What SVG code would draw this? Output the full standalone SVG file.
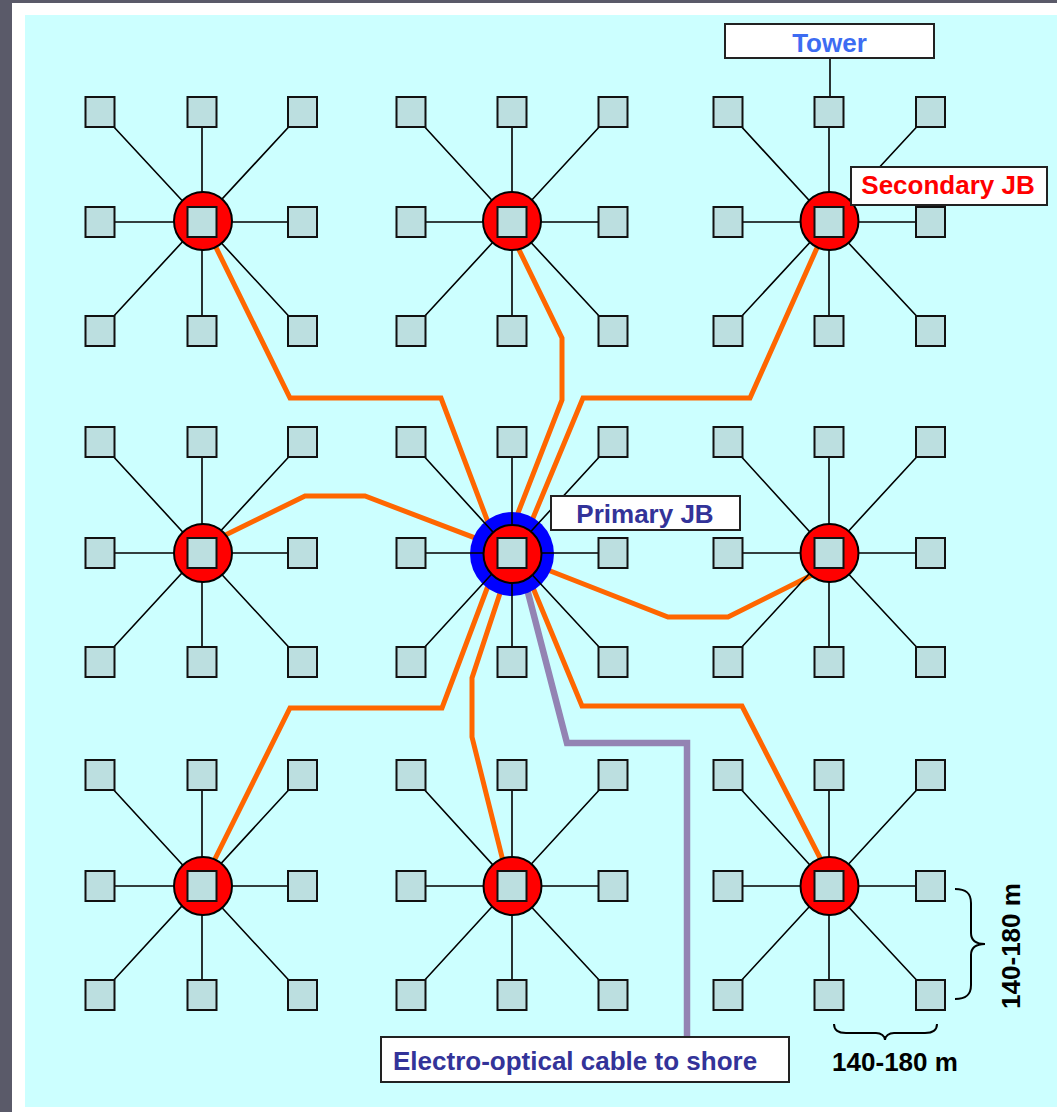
<svg xmlns="http://www.w3.org/2000/svg" xmlns:xlink="http://www.w3.org/1999/xlink" width="1057" height="1112" viewBox="0 0 1057 1112">
  <style>
    .sq { fill: #bcdfe0; stroke: #111; stroke-width: 2; }
    .spoke { fill: none; stroke: #000; stroke-width: 1.6; }
    .jb { fill: #ff0000; stroke: #000; stroke-width: 2; }
    .cable { fill: none; stroke: #ff6600; stroke-width: 5; }
    .shore { fill: none; stroke: #9383b3; stroke-width: 6.5; }
    .box { fill: #ffffff; stroke: #222; stroke-width: 2; }
    .lbl { font-family: "Liberation Sans", Arial, sans-serif; font-weight: bold; font-size: 26px; }
    .brace { fill: none; stroke: #000; stroke-width: 2; }
  </style>
  <defs>
    <rect id="sq" class="sq" x="-14.5" y="-15" width="29" height="30"/>
  </defs>

  <!-- page background, frame and sea-floor panel -->
  <rect x="0" y="0" width="1057" height="1112" fill="#5a5a69"/>
  <rect x="12" y="3" width="1045" height="1109" fill="#ffffff"/>
  <rect x="25" y="15" width="1032" height="1092" fill="#ccffff"/>

  <!-- inter-cluster cables -->
  <g id="connectors">
    <path class="cable" d="M203 221L290 398L441 398L500 554"/>
    <path class="cable" d="M505 221L562 338L562 400L502 554"/>
    <path class="cable" d="M829 221L750 398L583 398L518 554"/>
    <path class="cable" d="M203 546L305 496L365 496L512 552"/>
    <path class="cable" d="M512 556L668 617L728 617L830 566"/>
    <path class="cable" d="M500 554L442 708L290 708L202 885"/>
    <path class="cable" d="M513 554L472 678L472 737L509 885"/>
    <path class="cable" d="M519 554L582 706L742 706L834 885"/>
    <path class="shore" d="M518 554L567 743L687 743L687 1038"/>
  </g>

  <!-- primary junction box halo -->
  <g id="primary-jb-ring">
    <circle cx="512" cy="554" r="42" fill="#0000ff"/>
  </g>

  <!-- tower links inside each cluster -->
  <g id="spokes">
    <path class="spoke" d="M100 112L202 222L302.5 331M202 112V331M302.5 112L100 331M100 222H302.5"/>
    <path class="spoke" d="M411 112L512 222L613 331M512 112V331M613 112L411 331M411 222H613"/>
    <path class="spoke" d="M728 112L829 222L930.5 331M829 112V331M930.5 112L728 331M728 222H930.5"/>
    <path class="spoke" d="M100 442L202 553L302.5 662M202 442V662M302.5 442L100 662M100 553H302.5"/>
    <path class="spoke" d="M411 442L512 553L613 662M512 442V662M613 442L411 662M411 553H613"/>
    <path class="spoke" d="M728 442L829 553L930.5 662M829 442V662M930.5 442L728 662M728 553H930.5"/>
    <path class="spoke" d="M100 775L202 886L302.5 995M202 775V995M302.5 775L100 995M100 886H302.5"/>
    <path class="spoke" d="M411 775L512 886L613 995M512 775V995M613 775L411 995M411 886H613"/>
    <path class="spoke" d="M728 775L829 886L930.5 995M829 775V995M930.5 775L728 995M728 886H930.5"/>
    <path class="spoke" d="M830 58V97"/>
  </g>

  <!-- clusters: junction box + nine towers -->
  <g id="cluster-1">
    <circle class="jb" cx="203" cy="221" r="29"/>
    <use href="#sq" x="100" y="112"/><use href="#sq" x="202" y="112"/><use href="#sq" x="302.5" y="112"/>
    <use href="#sq" x="100" y="222"/><use href="#sq" x="202" y="222"/><use href="#sq" x="302.5" y="222"/>
    <use href="#sq" x="100" y="331"/><use href="#sq" x="202" y="331"/><use href="#sq" x="302.5" y="331"/>
  </g>
  <g id="cluster-2">
    <circle class="jb" cx="512" cy="221" r="29"/>
    <use href="#sq" x="411" y="112"/><use href="#sq" x="512" y="112"/><use href="#sq" x="613" y="112"/>
    <use href="#sq" x="411" y="222"/><use href="#sq" x="512" y="222"/><use href="#sq" x="613" y="222"/>
    <use href="#sq" x="411" y="331"/><use href="#sq" x="512" y="331"/><use href="#sq" x="613" y="331"/>
  </g>
  <g id="cluster-3">
    <circle class="jb" cx="829.5" cy="221" r="29"/>
    <use href="#sq" x="728" y="112"/><use href="#sq" x="829" y="112"/><use href="#sq" x="930.5" y="112"/>
    <use href="#sq" x="728" y="222"/><use href="#sq" x="829" y="222"/><use href="#sq" x="930.5" y="222"/>
    <use href="#sq" x="728" y="331"/><use href="#sq" x="829" y="331"/><use href="#sq" x="930.5" y="331"/>
  </g>
  <g id="cluster-4">
    <circle class="jb" cx="203" cy="553" r="29"/>
    <use href="#sq" x="100" y="442"/><use href="#sq" x="202" y="442"/><use href="#sq" x="302.5" y="442"/>
    <use href="#sq" x="100" y="553"/><use href="#sq" x="202" y="553"/><use href="#sq" x="302.5" y="553"/>
    <use href="#sq" x="100" y="662"/><use href="#sq" x="202" y="662"/><use href="#sq" x="302.5" y="662"/>
  </g>
  <g id="cluster-primary">
    <circle class="jb" cx="512.5" cy="554" r="29"/>
    <use href="#sq" x="411" y="442"/><use href="#sq" x="512" y="442"/><use href="#sq" x="613" y="442"/>
    <use href="#sq" x="411" y="553"/><use href="#sq" x="512" y="553"/><use href="#sq" x="613" y="553"/>
    <use href="#sq" x="411" y="662"/><use href="#sq" x="512" y="662"/><use href="#sq" x="613" y="662"/>
  </g>
  <g id="cluster-6">
    <circle class="jb" cx="829.5" cy="553" r="29"/>
    <use href="#sq" x="728" y="442"/><use href="#sq" x="829" y="442"/><use href="#sq" x="930.5" y="442"/>
    <use href="#sq" x="728" y="553"/><use href="#sq" x="829" y="553"/><use href="#sq" x="930.5" y="553"/>
    <use href="#sq" x="728" y="662"/><use href="#sq" x="829" y="662"/><use href="#sq" x="930.5" y="662"/>
  </g>
  <g id="cluster-7">
    <circle class="jb" cx="203" cy="886" r="29"/>
    <use href="#sq" x="100" y="775"/><use href="#sq" x="202" y="775"/><use href="#sq" x="302.5" y="775"/>
    <use href="#sq" x="100" y="886"/><use href="#sq" x="202" y="886"/><use href="#sq" x="302.5" y="886"/>
    <use href="#sq" x="100" y="995"/><use href="#sq" x="202" y="995"/><use href="#sq" x="302.5" y="995"/>
  </g>
  <g id="cluster-8">
    <circle class="jb" cx="512.5" cy="886" r="29"/>
    <use href="#sq" x="411" y="775"/><use href="#sq" x="512" y="775"/><use href="#sq" x="613" y="775"/>
    <use href="#sq" x="411" y="886"/><use href="#sq" x="512" y="886"/><use href="#sq" x="613" y="886"/>
    <use href="#sq" x="411" y="995"/><use href="#sq" x="512" y="995"/><use href="#sq" x="613" y="995"/>
  </g>
  <g id="cluster-9">
    <circle class="jb" cx="829.5" cy="886" r="29"/>
    <use href="#sq" x="728" y="775"/><use href="#sq" x="829" y="775"/><use href="#sq" x="930.5" y="775"/>
    <use href="#sq" x="728" y="886"/><use href="#sq" x="829" y="886"/><use href="#sq" x="930.5" y="886"/>
    <use href="#sq" x="728" y="995"/><use href="#sq" x="829" y="995"/><use href="#sq" x="930.5" y="995"/>
  </g>

  <!-- callout labels -->
  <g id="label-tower">
    <rect class="box" x="725" y="24" width="209" height="34"/>
    <text class="lbl" x="829.5" y="51.5" text-anchor="middle" fill="#3d6cf2">Tower</text>
  </g>
  <g id="label-secondary">
    <rect class="box" x="851" y="167" width="196" height="38"/>
    <text class="lbl" x="948" y="194" text-anchor="middle" fill="#ff0000">Secondary JB</text>
  </g>
  <g id="label-primary">
    <rect class="box" x="551" y="496" width="189" height="34"/>
    <text class="lbl" x="645" y="523" text-anchor="middle" fill="#333399">Primary JB</text>
  </g>
  <g id="label-shore">
    <rect class="box" x="381" y="1037" width="408" height="45"/>
    <text class="lbl" x="393" y="1070" fill="#333399">Electro-optical cable to shore</text>
  </g>

  <!-- spacing dimensions -->
  <g id="dimensions">
    <path class="brace" d="M955 889C966 889 971 893 971 903L971 933C971 940 976 944 985 944C976 944 971 948 971 955L971 985C971 995 966 999 955 999"/>
    <path class="brace" d="M834 1024C834 1030 838 1033 846 1033L876 1033C881 1033 885 1036 885 1040C885 1036 889 1033 894 1033L925 1033C933 1033 937 1030 937 1024"/>
    <text class="lbl" x="895" y="1071" text-anchor="middle" fill="#000">140-180 m</text>
    <text class="lbl" transform="translate(1020 946) rotate(-90)" text-anchor="middle" fill="#000">140-180 m</text>
  </g>
</svg>
